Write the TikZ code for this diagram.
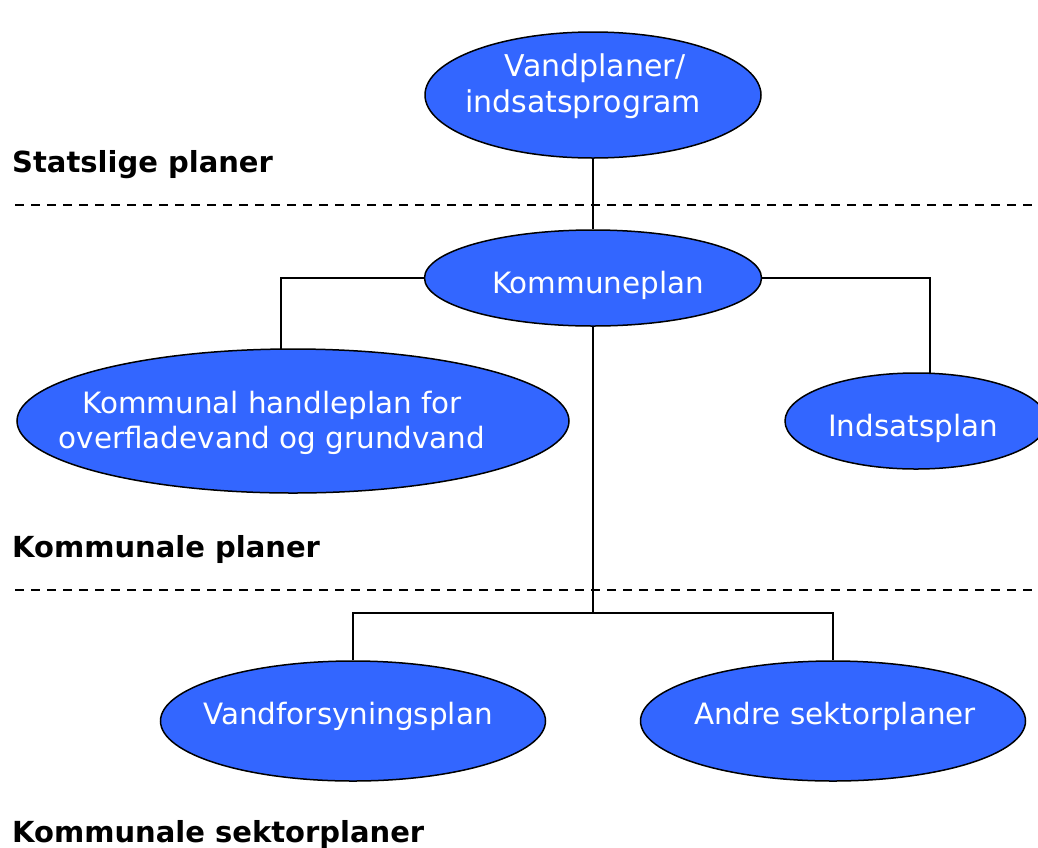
\documentclass[tikz,border=0pt]{standalone}
\usepackage{fontspec}
\setmainfont{DejaVu Sans}
\usetikzlibrary{shapes.geometric}
\definecolor{planblue}{HTML}{3366FF}
\tikzset{
  plan/.style={ellipse, draw=black, line width=1.5pt, fill=planblue, inner sep=0pt},
  plantext/.style={anchor=base, inner sep=0pt, text=white, font=\fontsize{29.4}{35}\selectfont},
  level/.style={anchor=base west, inner sep=0pt, font=\fontsize{29}{34}\selectfont\bfseries},
  conn/.style={line width=1.5pt},
  sep/.style={line width=1.8pt, dash pattern=on 9pt off 7pt}
}
\begin{document}
\begin{tikzpicture}[x=1pt,y=-1pt]
\useasboundingbox (0,0) rectangle (1038,847);
\begin{scope}
\clip (0,0) rectangle (1038,847);
\node[plan, minimum width=336, minimum height=126] (vp) at (593,95) {};
\node[plan, minimum width=337, minimum height=96] (kp) at (593,278) {};
\node[plan, minimum width=552, minimum height=144] (hp) at (293,421) {};
\node[plan, minimum width=262, minimum height=96] (ip) at (916,421) {};
\node[plan, minimum width=385, minimum height=120] (vf) at (353,721) {};
\node[plan, minimum width=385, minimum height=120] (as) at (833,721) {};
\end{scope}
\node[plantext, font=\fontsize{30}{35}\selectfont] (vpt1) at (595,76) {Vandplaner/};
\node[plantext, font=\fontsize{30}{35}\selectfont] (vpt2) at (583,112) {indsatsprogram};
\node[plantext] (kpt) at (598,293) {Kommuneplan};
\node[plantext] (hpt1) at (272,413) {Kommunal handleplan for};
\node[plantext] (hpt2) at (272,448) {overfladevand og grundvand};
\node[plantext] (ipt) at (913,436) {Indsatsplan};
\node[plantext] (vft) at (348,724) {Vandforsyningsplan};
\node[plantext] (ast) at (835,724) {Andre sektorplaner};
\coordinate (hptop) at (281,350);
\coordinate (iptop) at (930,374);
\coordinate (br) at (593,613);
\draw[conn] (vp.south) -- (kp.north);
\draw[conn] (kp.west) -| (hptop);
\draw[conn] (kp.east) -| (iptop);
\draw[conn] (kp.south) -- (br);
\draw[conn] (vf.north) |- (br) -| (as.north);
\coordinate (s1a) at (15,205); \coordinate (s1b) at (1038,205);
\coordinate (s2a) at (15,590); \coordinate (s2b) at (1038,590);
\draw[sep] (s1a) -- (s1b);
\draw[sep] (s2a) -- (s2b);
\node[level] (l1) at (12,172) {Statslige planer};
\node[level] (l2) at (12,557) {Kommunale planer};
\node[level] (l3) at (12,842) {Kommunale sektorplaner};
\end{tikzpicture}
\end{document}
